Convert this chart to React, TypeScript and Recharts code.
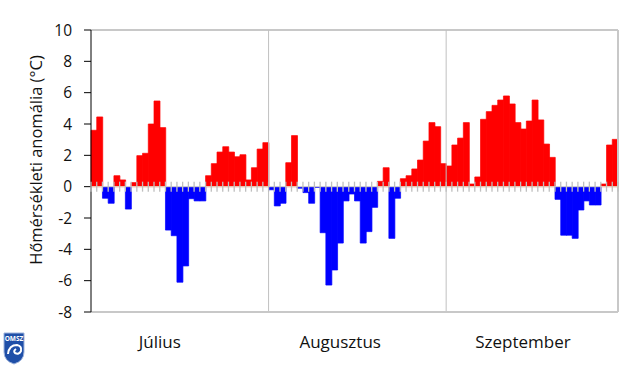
import { ComposedChart, Bar, Cell, XAxis, YAxis, ReferenceLine, Scatter, Label } from 'recharts';

// daily temperature anomalies (°C)
const julyValues = [3.6, 4.45, -0.74, -1.06, 0.7, 0.43, -1.43, 0.26, 1.98, 2.13, 4.0, 5.47, 3.77, -2.77, -3.13, -6.1, -5.06, -0.77, -0.91, -0.91, 0.7, 1.47, 2.21, 2.55, 2.21, 1.91, 2.04, 0.43, 1.21, 2.4, 2.81];
const augustValues = [-0.2, -1.23, -1.06, 1.53, 3.26, -0.1, -0.38, -1.06, -0.05, -2.94, -6.28, -5.32, -3.6, -0.91, -0.47, -0.91, -3.6, -2.87, -1.32, 0.34, 1.21, -3.3, -0.74, 0.51, 0.7, 1.13, 1.7, 2.91, 4.09, 3.83, 1.47];
const septemberValues = [1.32, 2.66, 3.1, 4.09, 0.17, 0.62, 4.3, 4.79, 5.19, 5.53, 5.79, 5.28, 4.09, 3.68, 4.19, 5.53, 4.26, 2.72, 1.87, -0.81, -3.1, -3.1, -3.3, -1.49, -0.91, -1.17, -1.17, 0.17, 2.66, 3.02];

const monthNames = ['Július', 'Augusztus', 'Szeptember'];
const monthLabelAt = [12, 43.5, 75.4];
const monthBreaks = [julyValues.length, julyValues.length + augustValues.length];
const yTicks = [-8, -6, -4, -2, 0, 2, 4, 6, 8, 10];
const yLabel = 'Hőmérsékleti anomália (°C)';

const values = [...julyValues, ...augustValues, ...septemberValues];
const data = values.map((v, i) => ({ x: i + 0.5, v }));
const dayEdges = Array.from({ length: values.length + 1 }, (_, i) => ({ x: i, z: 0 }));

const FONT = '"Open Sans", "Liberation Sans", sans-serif';
const GRID = '#c8c8c8';
const TEXT = '#111';

const MonthTick = (props: any) => (
  <text x={props.x} y={props.y + 21} textAnchor="middle" dominantBaseline="central" fontSize={17} fontFamily={FONT} fill={TEXT}>
    {monthNames[props.index]}
  </text>
);

const EdgeTick = (props: any) => (
  <line x1={props.cx} x2={props.cx} y1={props.cy - 5} y2={props.cy + 5} stroke="#bfbfbf" strokeWidth={1.3} />
);

function Logo() {
  return (
    <svg width={30} height={36} style={{ position: 'absolute', left: 0, top: 330 }}>
      <path d="M4 3 H24 V22 Q24 31 14 34 Q4 31 4 22 Z" fill="#1f4fa8" stroke="#9fb4dc" strokeWidth={1} />
      <text x={14} y={10.5} textAnchor="middle" fontSize={6.5} fontWeight="bold" fontFamily={FONT} fill="#fff">OMSZ</text>
      <path d="M8 24 Q9 15 17 15 Q22 16 21 21 Q19 25 15 23 Q13 21 16 19" fill="none" stroke="#fff" strokeWidth={2} />
    </svg>
  );
}

export default function App() {
  return (
    <div style={{ position: 'absolute', left: 0, top: 0, width: 640, height: 369, background: '#fff' }}>
      <ComposedChart
        width={640}
        height={369}
        data={data}
        margin={{ top: 30, right: 22, left: 0, bottom: 0 }}
        barCategoryGap={0}
        barGap={0}
      >
        <XAxis
          type="number"
          dataKey="x"
          domain={[0, values.length]}
          ticks={monthLabelAt}
          tick={<MonthTick />}
          tickLine={false}
          axisLine={{ stroke: GRID, strokeWidth: 2 }}
          height={57}
          interval={0}
        />
        <XAxis xAxisId="edges" type="number" dataKey="x" domain={[0, values.length]} hide />
        <YAxis
          type="number"
          domain={[-8, 10]}
          ticks={yTicks}
          interval={0}
          width={91}
          tickSize={7}
          tickMargin={12}
          axisLine={{ stroke: '#000' }}
          tickLine={{ stroke: '#000' }}
          tick={{ fontSize: 15.5, fontFamily: FONT, fill: TEXT }}
        >
          <Label
            content={() => (
              <text x={35} y={160} transform="rotate(-90, 35, 160)" textAnchor="middle" dominantBaseline="central" fontSize={16.5} fontFamily={FONT} fill={TEXT}>
                {yLabel}
              </text>
            )}
          />
        </YAxis>
        <ReferenceLine y={10} stroke={GRID} strokeWidth={2} />
        <ReferenceLine x={values.length} stroke={GRID} strokeWidth={2} />
        {monthBreaks.map(m => (
          <ReferenceLine key={m} x={m} stroke="#c0c0c0" />
        ))}
        <ReferenceLine y={0} stroke="#e4e4cc" />
        <Bar dataKey="v" isAnimationActive={false}>
          {data.map((d, i) => {
            const c = d.v >= 0 ? '#ff0000' : '#0000ff';
            return <Cell key={i} fill={c} stroke={c} strokeWidth={0.7} />;
          })}
        </Bar>
        <Scatter xAxisId="edges" data={dayEdges} dataKey="z" shape={<EdgeTick />} isAnimationActive={false} />
      </ComposedChart>
      <Logo />
    </div>
  );
}
